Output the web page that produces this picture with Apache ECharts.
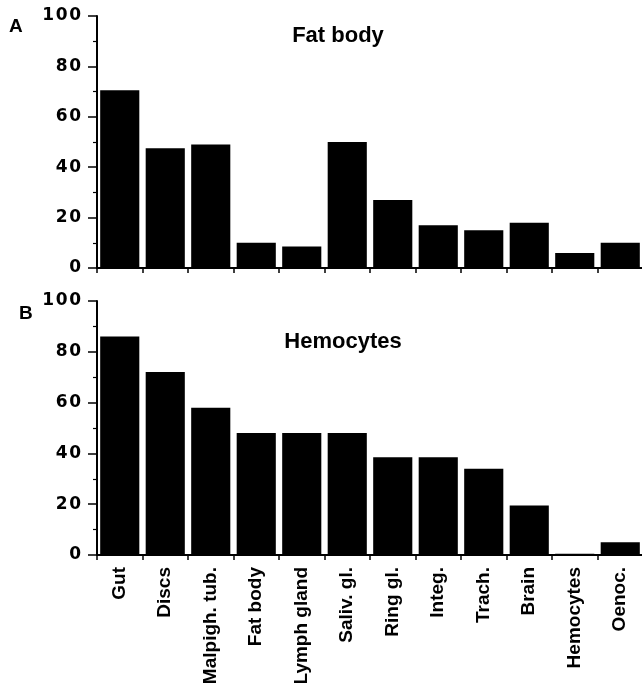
<!DOCTYPE html>
<html><head><meta charset="utf-8">
<script src="https://cdn.jsdelivr.net/npm/echarts@6/dist/echarts.min.js"></script>
<style>html,body{margin:0;padding:0;background:#fff}#c{width:642px;height:683px}</style>
</head><body><div id="c"></div>
<script>
const categories = ['Gut','Discs','Malpigh. tub.','Fat body','Lymph gland','Saliv. gl.','Ring gl.','Integ.','Trach.','Brain','Hemocytes','Oenoc.'];
const fatBodyValues = [70.5, 47.5, 49, 10, 8.5, 50, 27, 17, 15, 18, 6, 10];
const hemocyteValues = [86, 72, 58, 48, 48, 48, 38.5, 38.5, 34, 19.5, 0.5, 5];
const yTicks = [0, 20, 40, 60, 80, 100];
const panelTitles = ['Fat body', 'Hemocytes'];
const panelLetters = ['A', 'B'];

const FONT = 'Liberation Sans';
const chart = echarts.init(document.getElementById('c'), null, {renderer: 'canvas'});

function xAxis(idx, showLabels) {
  return {
    type: 'category', gridIndex: idx, data: categories,
    axisLine: {lineStyle: {color: '#000', width: 2}},
    axisTick: {show: true, interval: 0, alignWithLabel: false, length: 5, lineStyle: {color: '#000', width: 1.5}},
    axisLabel: showLabels ? {
      show: true, rotate: 90, interval: 0, color: '#000', fontFamily: FONT,
      fontWeight: 'bold', fontSize: 19, margin: 12
    } : {show: false, interval: 0}
  };
}
function yAxis(idx) {
  return {
    type: 'value', gridIndex: idx, min: 0, max: 100, interval: 20,
    axisLine: {show: true, lineStyle: {color: '#000', width: 2}},
    axisTick: {show: true, length: 9, lineStyle: {color: '#000', width: 1.5}},
    minorTick: {show: true, splitNumber: 2, length: 4, lineStyle: {color: '#000', width: 1.2}},
    splitLine: {show: false},
    axisLabel: {
      color: '#000', fontFamily: 'DejaVu Sans', fontWeight: 'bold', fontSize: 17, margin: 16,
      formatter: v => yTicks.includes(v) ? String(v).split('').join('\u200A') : ''
    }
  };
}

chart.setOption({
  animation: false,
  backgroundColor: '#fff',
  grid: [
    {left: 97, right: -1, top: 16, height: 252, containLabel: false, outerBoundsMode: 'none'},
    {left: 97, right: -1, top: 301, height: 254, containLabel: false, outerBoundsMode: 'none'}
  ],
  title: [
    {text: panelTitles[0], left: 338, top: 25, padding: 0, textAlign: 'center',
     textStyle: {fontFamily: FONT, fontWeight: 'bold', fontSize: 22, color: '#000'}},
    {text: panelTitles[1], left: 343, top: 331, padding: 0, textAlign: 'center',
     textStyle: {fontFamily: FONT, fontWeight: 'bold', fontSize: 22, color: '#000'}},
    {text: panelLetters[0], left: 9, top: 17, padding: 0,
     textStyle: {fontFamily: FONT, fontWeight: 'bold', fontSize: 19, color: '#000'}},
    {text: panelLetters[1], left: 19, top: 304, padding: 0,
     textStyle: {fontFamily: FONT, fontWeight: 'bold', fontSize: 19, color: '#000'}}
  ],
  xAxis: [xAxis(0, false), xAxis(1, true)],
  yAxis: [yAxis(0), yAxis(1)],
  series: [
    {type: 'bar', xAxisIndex: 0, yAxisIndex: 0, data: fatBodyValues,
     barCategoryGap: '14%', itemStyle: {color: '#000'}},
    {type: 'bar', xAxisIndex: 1, yAxisIndex: 1, data: hemocyteValues,
     barCategoryGap: '14%', itemStyle: {color: '#000'}}
  ]
});
</script></body></html>
